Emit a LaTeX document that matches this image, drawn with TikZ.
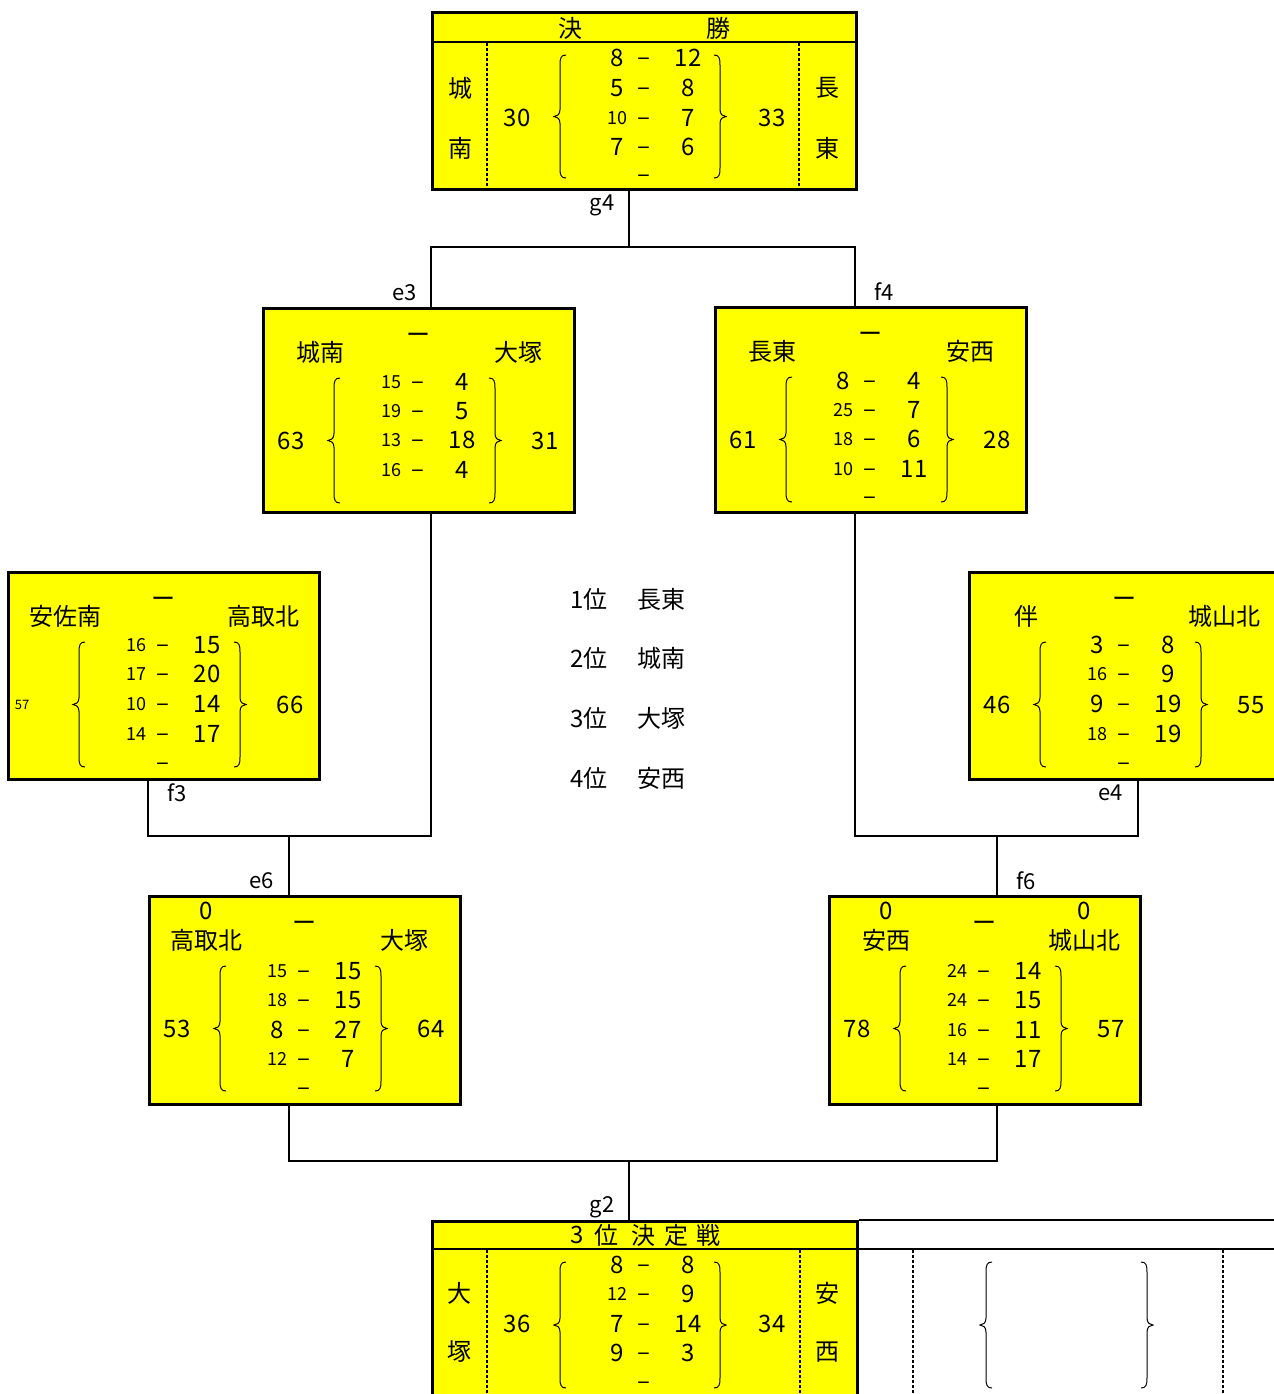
\documentclass[tikz,border=0pt]{standalone}
\usepackage{fontspec}
\setmainfont{Noto Sans CJK JP}
\definecolor{boxyellow}{HTML}{FFFF00}
\tikzset{
 box/.style={draw, line width=1.4pt, fill=boxyellow, inner sep=0pt, anchor=north west},
 conn/.style={line width=1.4pt},
 big/.style={font=\fontsize{12}{14}\selectfont, inner sep=0pt},
 dsh/.style={big, text height=0.72em, text depth=0pt},
 lbl/.style={font=\fontsize{11}{13}\selectfont, inner sep=0pt},
 brk/.style={line width=0.5pt},
 dots/.style={line width=1pt, dash pattern=on 1.5pt off 1pt},
}
\newcommand\sm{\fontsize{9}{10}\selectfont}
\newcommand\lbrk[3]{%
 \pgfmathsetmacro\brkmid{(#2+#3)/2}%
 \draw[brk] ({#1+6},#2) .. controls ({#1+1},#2) and (#1,{#2+3}) .. (#1,{#2+10}) -- (#1,{\brkmid-7}) .. controls (#1,{\brkmid-2}) and ({#1-3},\brkmid) .. ({#1-6},\brkmid) .. controls ({#1-3},\brkmid) and (#1,{\brkmid+2}) .. (#1,{\brkmid+7}) -- (#1,{#3-10}) .. controls (#1,{#3-3}) and ({#1+1},#3) .. ({#1+6},#3);}
\newcommand\rbrk[3]{%
 \pgfmathsetmacro\brkmid{(#2+#3)/2}%
 \draw[brk] ({#1-6},#2) .. controls ({#1-1},#2) and (#1,{#2+3}) .. (#1,{#2+10}) -- (#1,{\brkmid-7}) .. controls (#1,{\brkmid-2}) and ({#1+3},\brkmid) .. ({#1+6},\brkmid) .. controls ({#1+3},\brkmid) and (#1,{\brkmid+2}) .. (#1,{\brkmid+7}) -- (#1,{#3-10}) .. controls (#1,{#3-3}) and ({#1-1},#3) .. ({#1-6},#3);}
\def\cA{129}\def\cB{156}\def\cC{200}
\newcommand\srow[5]{%
 \node[big] (#1l#2) at (\cA,#3) {#4};
 \node[dsh] (#1d#2) at (\cB,#3) {–};
 \node[big] (#1r#2) at (\cC,#3) {#5};}
\newcommand\stdbox[8]{%
 \node[box, minimum width=155.5pt, minimum height=#4] (#1) at (#2,#3) {};
 \begin{scope}[shift={(#2,#3)}]
  \node[big] (#1-bar) at (156,31) {ー};
  \node[big] (#1-ln) at (58,45) {#5};
  \node[big] (#1-rn) at (256,45) {#6};
  \node[big] (#1-lt) at (29,134) {#7};
  \node[big] (#1-rt) at (283,134) {#8};
  \lbrk{72}{71}{196}
  \rbrk{233}{71}{196}}
\newcommand\closebox{\end{scope}}
\begin{document}
\begin{tikzpicture}[x=0.5pt,y=-0.5pt]
\useasboundingbox (0,0) rectangle (1274,1394);

% ---------- final ----------
\node[box, minimum width=212pt, minimum height=88.5pt] (final) at (431,11) {};
\draw[conn] (final.west |- 0,42) -- (final.east |- 0,42);
\draw[dots] (487,43) -- (487,187);
\draw[dots] (799,43) -- (799,187);
\node[big] (fin-h1) at (570,28) {決};
\node[big] (fin-h2) at (718,28) {勝};
\node[big] (fin-l1) at (460,88) {城};
\node[big] (fin-l2) at (460,148) {南};
\node[big] (fin-r1) at (827,88) {長};
\node[big] (fin-r2) at (827,148) {東};
\node[big] (fin-lt) at (517,118) {30};
\node[big] (fin-rt) at (772,118) {33};
\lbrk{560}{55}{178}
\rbrk{720}{55}{178}
\def\cA{617}\def\cB{644}\def\cC{688}
\srow{fin}{1}{58}{8}{12}
\srow{fin}{2}{88}{5}{8}
\srow{fin}{3}{118}{{\sm 10}}{7}
\srow{fin}{4}{147}{7}{6}
\node[dsh] (fin-d5) at (644,175) {–};

% ---------- third place ----------
\node[box, minimum width=212.5pt, minimum height=100pt] (third) at (431,1220) {};
\draw[conn] (third.west |- 0,1249) -- (1290,1249);
\draw[conn] (third.north east) -- (1290,1220);
\draw[dots] (487,1250) -- (487,1400);
\draw[dots] (800,1250) -- (800,1400);
\draw[dots] (913,1250) -- (913,1400);
\draw[dots] (1223,1250) -- (1223,1400);
\node[big] (th-h1) at (577,1235) {3};
\node[big] (th-h2) at (606,1235) {位};
\node[big] (th-h3) at (643,1235) {決};
\node[big] (th-h4) at (676,1235) {定};
\node[big] (th-h5) at (708,1235) {戦};
\node[big] (th-l1) at (459,1293) {大};
\node[big] (th-l2) at (459,1352) {塚};
\node[big] (th-r1) at (827,1293) {安};
\node[big] (th-r2) at (827,1352) {西};
\node[big] (th-lt) at (517,1324) {36};
\node[big] (th-rt) at (772,1324) {34};
\lbrk{560}{1262}{1388}
\rbrk{720}{1262}{1388}
\lbrk{986}{1262}{1388}
\rbrk{1147}{1262}{1388}
\srow{th}{1}{1265}{8}{8}
\srow{th}{2}{1294}{{\sm 12}}{9}
\srow{th}{3}{1324}{7}{14}
\srow{th}{4}{1353}{9}{3}
\node[dsh] (th-d5) at (644,1382) {–};

\def\cA{129}\def\cB{156}\def\cC{200}
% ---------- e3 ----------
\stdbox{e3}{262}{307}{102pt}{城南}{大塚}{63}{31}
 \srow{e3}{1}{75}{{\sm 15}}{4}
 \srow{e3}{2}{104}{{\sm 19}}{5}
 \srow{e3}{3}{133}{{\sm 13}}{18}
 \srow{e3}{4}{163}{{\sm 16}}{4}
\closebox
% ---------- f4 ----------
\stdbox{f4}{714}{306}{102.5pt}{長東}{安西}{61}{28}
 \srow{f4}{1}{75}{8}{4}
 \srow{f4}{2}{104}{{\sm 25}}{7}
 \srow{f4}{3}{133}{{\sm 18}}{6}
 \srow{f4}{4}{163}{{\sm 10}}{11}
 \node[dsh] (f4d5) at (156,191) {–};
\closebox
% ---------- left (f3) ----------
\stdbox{bl}{7}{571}{103.5pt}{安佐南}{高取北}{}{66}
 \node[inner sep=0pt, font=\fontsize{6.5}{7}\selectfont] (bl-lt2) at (15,134) {57};
 \srow{bl}{1}{74}{{\sm 16}}{15}
 \srow{bl}{2}{103}{{\sm 17}}{20}
 \srow{bl}{3}{133}{{\sm 10}}{14}
 \srow{bl}{4}{163}{{\sm 14}}{17}
 \node[dsh] (bld5) at (156,192) {–};
\closebox
% ---------- right (e4) ----------
\stdbox{br}{968}{571}{103.5pt}{伴}{城山北}{46}{55}
 \srow{br}{1}{74}{3}{8}
 \srow{br}{2}{103}{{\sm 16}}{9}
 \srow{br}{3}{133}{9}{19}
 \srow{br}{4}{163}{{\sm 18}}{19}
 \node[dsh] (brd5) at (156,192) {–};
\closebox
% ---------- e6 ----------
\stdbox{e6}{148}{895}{104pt}{高取北}{大塚}{53}{64}
 \node[big] (e6z) at (58,16) {0};
 \srow{e6}{1}{76}{{\sm 15}}{15}
 \srow{e6}{2}{105}{{\sm 18}}{15}
 \srow{e6}{3}{135}{8}{27}
 \srow{e6}{4}{164}{{\sm 12}}{7}
 \node[dsh] (e6d5) at (156,193) {–};
\closebox
% ---------- f6 ----------
\stdbox{f6}{828}{895}{104pt}{安西}{城山北}{78}{57}
 \node[big] (f6z1) at (58,16) {0};
 \node[big] (f6z2) at (256,16) {0};
 \srow{f6}{1}{76}{{\sm 24}}{14}
 \srow{f6}{2}{105}{{\sm 24}}{15}
 \srow{f6}{3}{135}{{\sm 16}}{11}
 \srow{f6}{4}{164}{{\sm 14}}{17}
 \node[dsh] (f6d5) at (156,193) {–};
\closebox

% ---------- connectors ----------
\coordinate (lvl1) at (0,247);
\coordinate (lvl2) at (0,836);
\coordinate (lvl3) at (0,1161);
\coordinate (finbot) at ([xshift=99pt]final.south west);
\coordinate (thtop) at ([xshift=99pt]third.north west);
\coordinate (e3top) at ([xshift=84.5pt]e3.north west);
\coordinate (e3bot) at ([xshift=84.5pt]e3.south west);
\coordinate (f4top) at ([xshift=70.5pt]f4.north west);
\coordinate (f4bot) at ([xshift=70.5pt]f4.south west);
\coordinate (blbot) at ([xshift=70.5pt]bl.south west);
\coordinate (brbot) at ([xshift=85pt]br.south west);
\coordinate (e6top) at ([xshift=70.5pt]e6.north west);
\coordinate (e6bot) at ([xshift=70.5pt]e6.south west);
\coordinate (f6top) at ([xshift=84.5pt]f6.north west);
\coordinate (f6bot) at ([xshift=84.5pt]f6.south west);

\draw[conn] (finbot) -- (finbot |- lvl1);
\draw[conn] (e3top) |- (lvl1 -| f4top) -- (f4top);
\draw[conn] (blbot) |- (lvl2 -| e3bot) -- (e3bot);
\draw[conn] (e6top) -- (e6top |- lvl2);
\draw[conn] (f4bot) |- (lvl2 -| brbot) -- (brbot);
\draw[conn] (f6top) -- (f6top |- lvl2);
\draw[conn] (e6bot) |- (lvl3 -| f6bot) -- (f6bot);
\draw[conn] (thtop) -- (thtop |- lvl3);

% ---------- labels ----------
\node[lbl] (lg4) at (602,205) {g4};
\node[lbl] (le3) at (405,293) {e3};
\node[lbl] (lf4) at (884,292) {f4};
\node[lbl] (lf3) at (177,793) {f3};
\node[lbl] (le4) at (1111,793) {e4};
\node[lbl] (le6) at (262,881) {e6};
\node[lbl] (lf6) at (1026,881) {f6};
\node[lbl] (lg2) at (602,1207) {g2};

% ---------- ranking ----------
\node[big] (rk1) at (589,599) {1位};
\node[big] (tm1) at (661,599) {長東};
\node[big] (rk2) at (589,658) {2位};
\node[big] (tm2) at (661,658) {城南};
\node[big] (rk3) at (589,718) {3位};
\node[big] (tm3) at (661,718) {大塚};
\node[big] (rk4) at (589,778) {4位};
\node[big] (tm4) at (661,778) {安西};
\end{tikzpicture}
\end{document}
